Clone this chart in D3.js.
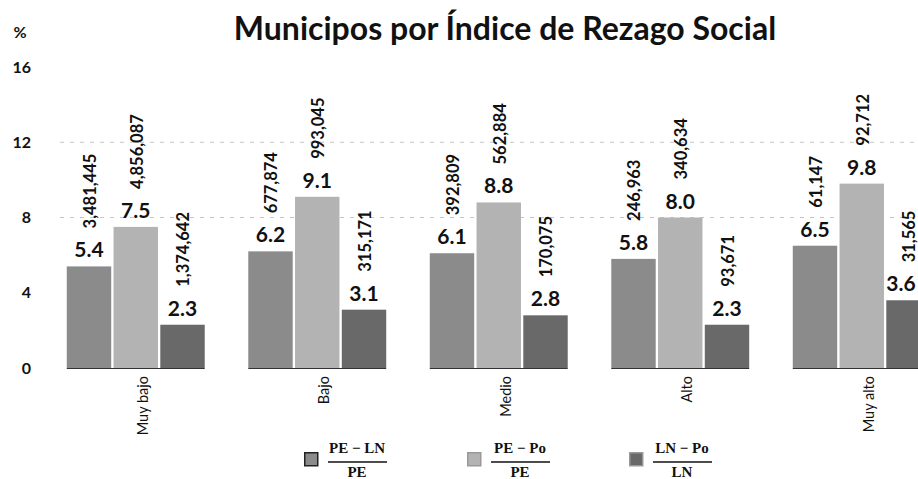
<!DOCTYPE html>
<html>
<head>
<meta charset="utf-8">
<script src="https://cdn.jsdelivr.net/npm/d3@7"></script>
<style>
    body { margin: 0; background: #ffffff; }
    svg { display: block; font-family: Lato, "Open Sans", sans-serif; }
</style>
</head>
<body>
<div id="chart"></div>
<script>
"use strict";

// Data
var categories = ["Muy bajo", "Bajo", "Medio", "Alto", "Muy alto"];
var seriesNames = ["PE-LN", "PE-Po", "LN-Po"];
var peLn = [5.4, 6.2, 6.1, 5.8, 6.5];
var pePo = [7.5, 9.1, 8.8, 8.0, 9.8];
var lnPo = [2.3, 3.1, 2.8, 2.3, 3.6];
var peLnCount = ["3,481,445", "677,874", "392,809", "246,963", "61,147"];
var pePoCount = ["4,856,087", "993,045", "562,884", "340,634", "92,712"];
var lnPoCount = ["1,374,642", "315,171", "170,075", "93,671", "31,565"];
var yTicks = [0, 4, 8, 12, 16];
var gridTicks = [8, 12];
var legendNum = ["PE \u2212 LN", "PE \u2212 Po", "LN \u2212 Po"];
var legendDen = ["PE", "PE", "LN"];

var values = [peLn, pePo, lnPo];
var counts = [peLnCount, pePoCount, lnPoCount];
var colors = ["#8b8b8b", "#b3b3b3", "#696969"];

var W = 918, H = 479;

var svg = d3.select("#chart").append("svg")
    .attr("width", W)
    .attr("height", H);

// Scales
var xScale = d3.scaleBand()
    .domain(categories)
    .range([45, 45 + 5 * 181.5])
    .paddingInner(0.24)
    .paddingOuter(0.12);

var xInner = d3.scaleBand()
    .domain(seriesNames)
    .range([0, xScale.bandwidth()])
    .paddingInner(0.05);

var yScale = d3.scaleLinear()
    .domain([0, 16])
    .range([368, 67]);

// Title
svg.append("text")
    .attr("x", 505)
    .attr("y", 40)
    .attr("text-anchor", "middle")
    .attr("font-size", "32px")
    .attr("font-weight", "bold")
    .attr("fill", "#111")
    .text("Municipos por Índice de Rezago Social");

svg.append("text")
    .attr("x", 20)
    .attr("y", 38)
    .attr("text-anchor", "middle")
    .attr("font-size", "16px")
    .attr("font-weight", "bold")
    .attr("fill", "#111")
    .text("%");

// Gridlines (dashed, faint)
svg.selectAll(".grid")
    .data(gridTicks)
    .enter().append("line")
    .attr("class", "grid")
    .attr("x1", 60)
    .attr("x2", W)
    .attr("y1", function (d) { return yScale(d); })
    .attr("y2", function (d) { return yScale(d); })
    .attr("stroke", "#c4c4c4")
    .attr("stroke-width", 1)
    .attr("stroke-dasharray", "4,6");

// Y axis (labels only)
var yAxis = d3.axisLeft(yScale)
    .tickValues(yTicks)
    .tickSize(0)
    .tickPadding(0);

var yAxisG = svg.append("g")
    .attr("transform", "translate(31,0)")
    .call(yAxis);
yAxisG.select(".domain").remove();
yAxisG.selectAll("text")
    .attr("font-family", "Lato, sans-serif")
    .attr("font-size", "16px")
    .attr("font-weight", "bold")
    .attr("fill", "#111");

// Groups
var groups = svg.selectAll(".group")
    .data(categories)
    .enter().append("g")
    .attr("class", "group")
    .attr("transform", function (d) { return "translate(" + xScale(d) + ",0)"; });

// Baseline under each group
groups.append("line")
    .attr("x1", 0)
    .attr("x2", xScale.bandwidth())
    .attr("y1", yScale(0) + 0.5)
    .attr("y2", yScale(0) + 0.5)
    .attr("stroke", "#333")
    .attr("stroke-width", 1);

seriesNames.forEach(function (s, k) {
    var cx = xInner(s) + xInner.bandwidth() / 2;

    groups.append("rect")
        .attr("x", xInner(s))
        .attr("y", function (d, i) { return yScale(values[k][i]); })
        .attr("width", xInner.bandwidth())
        .attr("height", function (d, i) { return yScale(0) - yScale(values[k][i]); })
        .attr("fill", colors[k]);

    // value label (kept inside the page at the right edge)
    groups.append("text")
        .attr("x", function (d) {
            var gx = xScale(d);
            return Math.min(cx, W - 1 - 16 - gx);
        })
        .attr("y", function (d, i) { return yScale(values[k][i]) - 9; })
        .attr("text-anchor", "middle")
        .attr("font-size", "21px")
        .attr("font-weight", "bold")
        .attr("fill", "#111")
        .text(function (d, i) { return values[k][i].toFixed(1); });

    // rotated count label
    groups.append("text")
        .attr("transform", function (d, i) {
            return "translate(" + (cx + 1) + "," + (yScale(values[k][i]) - 38) + ")rotate(-90)";
        })
        .attr("dy", "0.35em")
        .attr("text-anchor", "start")
        .attr("font-size", "16.5px")
        .attr("font-weight", "bold")
        .attr("fill", "#111")
        .text(function (d, i) { return counts[k][i]; });
});

// Category labels
groups.append("text")
    .attr("transform", "translate(" + (xScale.bandwidth() / 2 + 7) + "," + (yScale(0) + 8) + ")rotate(-90)")
    .attr("dy", "0.35em")
    .attr("text-anchor", "end")
    .attr("font-size", "14.5px")
    .attr("fill", "#111")
    .text(function (d) { return d; });

// Legend
var legendX = [304, 467, 629];
var legend = svg.selectAll(".legend")
    .data(seriesNames)
    .enter().append("g")
    .attr("class", "legend")
    .attr("transform", function (d, i) { return "translate(" + legendX[i] + ",452)"; });

legend.append("rect")
    .attr("x", 0.75)
    .attr("y", 0.75)
    .attr("width", 13)
    .attr("height", 13)
    .attr("fill", function (d, i) { return colors[i]; })
    .attr("stroke", function (d, i) { return i === 0 ? "#222" : "#999"; })
    .attr("stroke-width", 1.5);

legend.append("text")
    .attr("x", 53)
    .attr("y", 1)
    .attr("text-anchor", "middle")
    .attr("font-family", "Liberation Serif, serif")
    .attr("font-size", "15px")
    .attr("font-weight", "bold")
    .attr("fill", "#111")
    .text(function (d, i) { return legendNum[i]; });

legend.append("line")
    .attr("x1", 24)
    .attr("x2", 83)
    .attr("y1", 10)
    .attr("y2", 10)
    .attr("stroke", "#111")
    .attr("stroke-width", 1.4);

legend.append("text")
    .attr("x", 53)
    .attr("y", 25)
    .attr("text-anchor", "middle")
    .attr("font-family", "Liberation Serif, serif")
    .attr("font-size", "15px")
    .attr("font-weight", "bold")
    .attr("fill", "#111")
    .text(function (d, i) { return legendDen[i]; });
</script>
</body>
</html>
